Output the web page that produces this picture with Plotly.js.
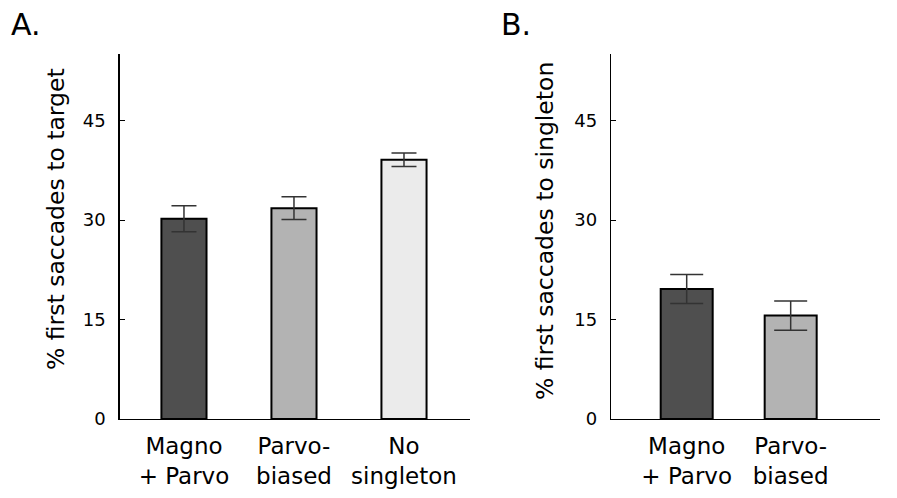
<!DOCTYPE html>
<html>
<head>
<meta charset="utf-8">
<script src="https://cdn.plot.ly/plotly-3.0.1.min.js"></script>
<style>
html, body { margin: 0; padding: 0; background: #ffffff; }
#chart { width: 897px; height: 498px; }
</style>
</head>
<body>
<div id="chart"></div>
<script>
// ---- data ----
const categoriesA = ['Magno<br>+ Parvo', 'Parvo-<br>biased', 'No<br>singleton'];
const valuesA = [30.2, 31.8, 39.1];
const errorsA = [1.95, 1.72, 1.03];

const categoriesB = ['Magno<br>+ Parvo', 'Parvo-<br>biased'];
const valuesB = [19.6, 15.6];
const errorsB = [2.2, 2.2];

const barColorsA = ['#4f4f4f', '#b3b3b3', '#ebebeb'];
const barColorsB = ['#4f4f4f', '#b3b3b3'];
const yTickValues = [0, 15, 30, 45];
const yTitleA = '% first saccades to target';
const yTitleB = '% first saccades to singleton';
const panelLabels = ['A.', 'B.'];

// ---- drawing ----
const W = 897, H = 498;
const FONT = 'DejaVu Sans, Liberation Sans, Arial, sans-serif';
const px = v => v / W;
const py = v => (H - v) / H;

const traces = [
  {
    type: 'bar', x: categoriesA, y: valuesA, xaxis: 'x', yaxis: 'y',
    width: 0.41,
    marker: { color: barColorsA, line: { color: '#000000', width: 2 } },
    error_y: { type: 'data', array: errorsA, visible: true, color: '#333333', thickness: 1.5, width: 12.5 },
    hoverinfo: 'skip'
  },
  {
    type: 'bar', x: categoriesB, y: valuesB, xaxis: 'x2', yaxis: 'y2',
    width: 0.5,
    marker: { color: barColorsB, line: { color: '#000000', width: 2 } },
    error_y: { type: 'data', array: errorsB, visible: true, color: '#333333', thickness: 1.5, width: 16.5 },
    hoverinfo: 'skip'
  }
];

const xCommon = {
  type: 'category', showline: true, linecolor: '#000000', linewidth: 1.3,
  ticks: '', showgrid: false, zeroline: false, fixedrange: true, ticklabelstandoff: 6,
  tickfont: { family: FONT, size: 23, color: '#000000' }
};
const yCommon = {
  range: [0, 55], tickvals: yTickValues, ticks: 'inside', ticklen: 5, tickwidth: 1,
  tickcolor: '#000000', showline: true, linecolor: '#000000', linewidth: 1.3,
  showgrid: false, zeroline: false, fixedrange: true, ticklabelstandoff: 9,
  tickfont: { family: FONT, size: 18, color: '#000000' }
};

const layout = {
  width: W, height: H,
  margin: { l: 0, r: 0, t: 0, b: 0 },
  paper_bgcolor: '#ffffff', plot_bgcolor: '#ffffff',
  showlegend: false,
  xaxis: Object.assign({}, xCommon, { domain: [px(119.5), px(470)], range: [-0.586, 2.6], anchor: 'y' }),
  yaxis: Object.assign({}, yCommon, { domain: [py(419), py(54.3)], anchor: 'x' }),
  xaxis2: Object.assign({}, xCommon, { domain: [px(611), px(880)], range: [-0.728, 1.859], anchor: 'y2' }),
  yaxis2: Object.assign({}, yCommon, { domain: [py(419), py(54.3)], anchor: 'x2' }),
  annotations: [
    { text: yTitleA, textangle: -90, xref: 'paper', yref: 'paper', x: px(56), y: py(219),
      xanchor: 'center', yanchor: 'middle', showarrow: false,
      font: { family: FONT, size: 23.5, color: '#000000' } },
    { text: yTitleB, textangle: -90, xref: 'paper', yref: 'paper', x: px(545), y: py(231),
      xanchor: 'center', yanchor: 'middle', showarrow: false,
      font: { family: FONT, size: 23.5, color: '#000000' } },
    { text: panelLabels[0], xref: 'paper', yref: 'paper', x: px(9), y: py(25),
      xanchor: 'left', yanchor: 'middle', showarrow: false,
      font: { family: FONT, size: 30, color: '#000000' } },
    { text: panelLabels[1], xref: 'paper', yref: 'paper', x: px(499), y: py(25),
      xanchor: 'left', yanchor: 'middle', showarrow: false,
      font: { family: FONT, size: 30, color: '#000000' } }
  ]
};

Plotly.newPlot('chart', traces, layout, { displayModeBar: false, staticPlot: true });
</script>
</body>
</html>
